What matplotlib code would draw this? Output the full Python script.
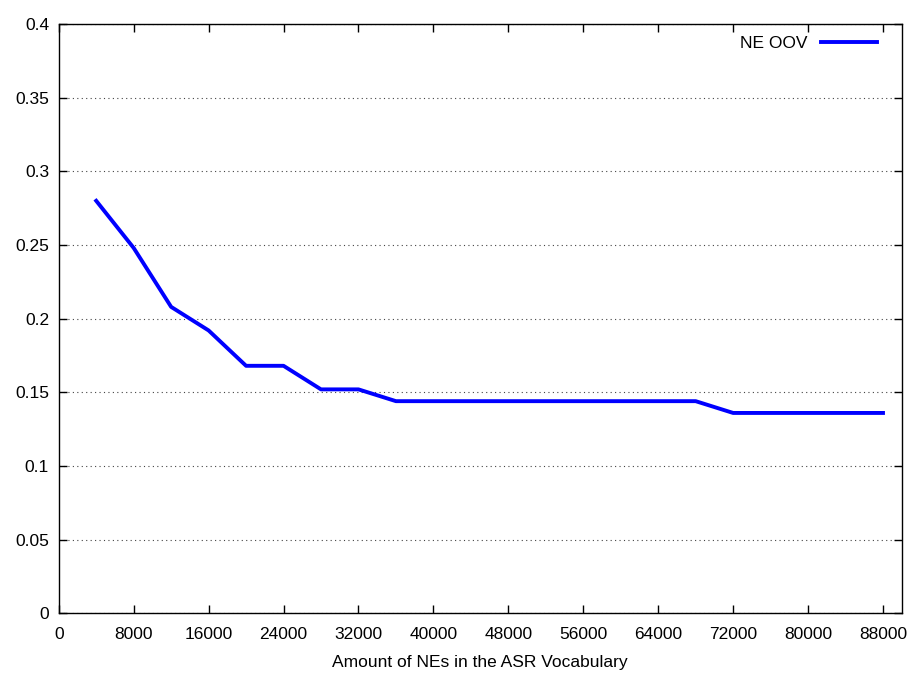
import matplotlib
matplotlib.use("Agg")
import matplotlib.pyplot as plt

# NE OOV rate vs vocabulary size
ne_count = [4000, 8000, 12000, 16000, 20000, 24000, 28000, 32000, 36000, 40000,
            44000, 48000, 52000, 56000, 60000, 64000, 68000, 72000, 76000, 80000,
            84000, 88000]
oov_rate = [0.280, 0.248, 0.208, 0.192, 0.168, 0.168, 0.152, 0.152, 0.144, 0.144,
            0.144, 0.144, 0.144, 0.144, 0.144, 0.144, 0.144, 0.136, 0.136, 0.136,
            0.136, 0.136]
x_ticks = list(range(0, 88001, 8000))
y_ticks = [0, 0.05, 0.1, 0.15, 0.2, 0.25, 0.3, 0.35, 0.4]

plt.rcParams['font.family'] = ['Liberation Sans', 'DejaVu Sans']
plt.rcParams['font.size'] = 12.5

fig = plt.figure(figsize=(9.15, 6.73), dpi=100)
ax = fig.add_axes([0.0642, 0.0887, 0.9213, 0.8756])

ax.plot(ne_count, oov_rate, color='#0000ff', linewidth=2.8, label='NE OOV')

ax.set_xlim(0, 90000)
ax.set_ylim(0, 0.4)
ax.set_xticks(x_ticks)
ax.set_yticks(y_ticks)
ax.set_yticklabels(['0', '0.05', '0.1', '0.15', '0.2', '0.25', '0.3', '0.35', '0.4'])
ax.tick_params(direction='in', length=6, width=1, top=True, right=True)
ax.tick_params(axis='x', pad=10)
ax.tick_params(axis='y', pad=7)
ax.yaxis.grid(True, linestyle=(0, (1, 3)), color='#444444', linewidth=0.8)
for s in ax.spines.values():
    s.set_linewidth(1.0)

ax.set_xlabel("Amount of NEs in the ASR Vocabulary", labelpad=9)
ax.legend(loc='upper right', frameon=False, markerfirst=False, handlelength=3.2,
          bbox_to_anchor=(0.985, 1.0), borderaxespad=0.3, fontsize=12.5)

fig.savefig("out.png", dpi=100)
